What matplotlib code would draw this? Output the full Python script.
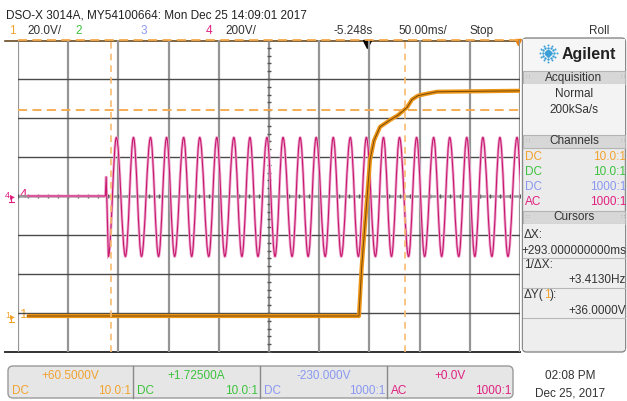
import numpy as np
import matplotlib
matplotlib.use("Agg")
import matplotlib.pyplot as plt
from matplotlib.patches import FancyBboxPatch, Rectangle, PathPatch
from matplotlib.path import Path

# channel 1 (20 V/div) - step (ms, V)
ch1_t = [-241, 89.6, 92.3, 100.6, 104.6, 110.6, 120.5, 128.5, 137.5, 142.4, 148.4, 157.4, 167.3, 250]
ch1_v = [0, 0, 25, 80, 90, 97, 100.5, 103, 107, 111, 113, 114, 115, 115.5]

# channel 4 (200 V/div) - mains, flat then switched on
ch4_pre_t = [-241, -163, -162.2, -161.4]
ch4_pre_v = [0, 0, 100, -40]
ch4_trough_t = [-160, -143, -127, -110, -94, -77, -60, -44, -27, -11, 6, 23, 39,
                56, 72, 89, 106, 122, 139, 155, 172, 189, 205, 222, 238, 255]
ch4_peak_t = [-152, -135, -118, -102, -85, -69, -52, -35, -19, -2, 14, 31, 47,
              64, 81, 97, 114, 130, 147, 164, 180, 197, 213, 230, 247]
ch4_trough_v = -310
ch4_peak_v = 300

cursor_x = [-157.5, 135.5]      # ms
cursor_y = [105.5, 141.5]       # V on channel 1

ORANGE = "#f2a22e"
GREEN = "#3cc23c"
BLUE = "#8a98f2"
MAGENTA = "#e0207f"
TXT = "#333333"

plt.rcParams["font.family"] = ["Liberation Sans", "DejaVu Sans"]
fs = 8.5

fig = plt.figure(figsize=(6.27, 4.01), dpi=100)

# overlay in pixel coordinates for the screen furniture
ov = fig.add_axes([0, 0, 1, 1], zorder=0)
ov.set_xlim(0, 627)
ov.set_ylim(401, 0)
ov.axis("off")

# scope graticule axes: 10 x 50 ms, 8 x 200 V
ax = fig.add_axes([18 / 627, 49 / 401, 502 / 627, 312 / 401], zorder=1)
ax.set_facecolor("none")
ax.set_xlim(-250, 250)
ax.set_ylim(-800, 800)
ax.axis("off")

for t in range(-250, 251, 50):
    ax.axvline(t, color="#959595", lw=1.6, zorder=1)
for v in range(-600, 601, 200):
    if v == 0:
        ax.axhline(v, color="#9a9a9a", lw=1.8, zorder=1)
    else:
        ax.axhline(v, color="#4a4a4a", lw=1.0, zorder=1)
ax.plot(np.arange(-250, 251, 10), np.zeros(51), ls="none", marker="|",
        ms=3, color="#555555", mew=1, zorder=1)
ax.plot(np.zeros(41), np.arange(-800, 801, 40), ls="none", marker="_",
        ms=3, color="#555555", mew=1, zorder=1)

# frame top/bottom (extend left of the graticule)
ov.plot([5, 520], [352, 352], color="#333333", lw=1.4)
ov.plot([5, 520], [40.5, 40.5], color="#6a4a20", lw=1.2)

# channel 4 trace: straight through the switch-on, smooth between extremes
ext = sorted(list(zip(ch4_trough_t, [ch4_trough_v] * len(ch4_trough_t))) +
             list(zip(ch4_peak_t, [ch4_peak_v] * len(ch4_peak_t))))
verts = list(zip(ch4_pre_t, ch4_pre_v)) + [ext[0]]
codes = [Path.MOVETO] + [Path.LINETO] * len(ch4_pre_t)
k = 0.3642
for (t0, v0), (t1, v1) in zip(ext[:-1], ext[1:]):
    dt = t1 - t0
    verts += [(t0 + k * dt, v0), (t1 - k * dt, v1), (t1, v1)]
    codes += [Path.CURVE4] * 3
path4 = Path(verts, codes)
ax.add_patch(PathPatch(path4, fill=False, ec="#eeaad0", lw=2.0, zorder=3))
ax.add_patch(PathPatch(path4, fill=False, ec="#c8186e", lw=0.8, zorder=4))

# channel 1 trace (own scale)
ax1 = ax.twinx()
ax1.set_ylim(-18.46, 141.54)
ax1.axis("off")
ax1.set_zorder(2)
ax1.plot(ch1_t, ch1_v, color="#ec9416", lw=3.0, zorder=3, solid_capstyle="butt")
ax1.plot(ch1_t, ch1_v, color="#7a4a08", lw=0.7, zorder=4)

# cursors
for cx in cursor_x:
    ax1.axvline(cx, color="#f9bb70", lw=1.2, ls=(0, (4, 3)), zorder=5)
for cy in cursor_y:
    ax1.axhline(cy, color="#f5a848", lw=1.3, ls=(0, (5, 3)), zorder=5, clip_on=False)

# markers on the top edge
ov.plot([367], [44], marker="v", color="black", ms=6)
ov.plot([518], [42], marker="v", color="#e8800c", ms=4)

# ground markers
for y, lab, col in [(196, "4", MAGENTA), (316, "1", ORANGE)]:
    ov.text(5, y, lab, color=col, fontsize=6.5, va="center", ha="left")
    ov.text(9.5, y, "\u25B8", color=col, fontsize=7, va="center", ha="left")
    ov.plot([11, 11], [y + 1, y + 6], color=col, lw=0.8)
    ov.plot([8.5, 13.5], [y + 6, y + 6], color=col, lw=0.8)
    ov.text(20, y - 1, lab, color=col, fontsize=9.5, va="center", ha="left")

# header lines
ov.text(6, 15, "DSO-X 3014A, MY54100664: Mon Dec 25 14:09:01 2017",
        fontsize=fs, color="#222222", va="center")
for x, s, c in [(9, "1", ORANGE), (27, "20.0V/", TXT), (75, "2", GREEN),
                (141, "3", BLUE), (206, "4", MAGENTA), (225, "200V/", TXT),
                (334, "-5.248s", TXT), (398, "50.00ms/", TXT), (470, "Stop", TXT),
                (589, "Roll", TXT)]:
    ov.text(x, 31, s, fontsize=fs, color=c, va="center")

# right panel
ov.add_patch(FancyBboxPatch((522.5, 38), 103, 314, boxstyle="round,pad=0,rounding_size=4",
                            fc="#ebebeb", ec="#8a8a8a", lw=1))
ov.add_patch(Rectangle((523, 38.5), 102, 32, fc="#f6f6f6", ec="none"))
ov.text(562, 54, "Agilent", fontsize=11.5, fontweight="bold", color="#222222",
        va="center")
ang = np.radians(np.arange(0, 360, 30))
for r, s in [(2.5, 4), (5.5, 3), (8.5, 2)]:
    ov.scatter(548 + r * np.cos(ang), 53 + r * np.sin(ang), s=s, color="#3a9fd6",
               lw=0)
ov.scatter([548], [53], s=6, color="#3a9fd6", lw=0)


def bar(y0, label):
    ov.add_patch(Rectangle((523, y0), 102, 13, fc="#d7d7d7", ec="#b4b4b4", lw=0.8))
    ov.text(574, y0 + 6.5, label, fontsize=fs, color=TXT, ha="center", va="center")
    ov.text(526, y0 + 6.5, "\u2237", fontsize=5, color="#aaaaaa", va="center")
    ov.text(621, y0 + 6.5, "\u2237", fontsize=5, color="#aaaaaa", va="center")


bar(71, "Acquisition")
ov.add_patch(Rectangle((523, 84), 102, 51, fc="#f3f3f3", ec="none"))
ov.text(574, 94, "Normal", fontsize=fs, color=TXT, ha="center", va="center")
ov.text(574, 110, "200kSa/s", fontsize=fs, color=TXT, ha="center", va="center")

bar(135, "Channels")
for y, a, b, c in [(157, "DC", "10.0:1", ORANGE), (172, "DC", "10.0:1", GREEN),
                   (187, "DC", "1000:1", BLUE), (202, "AC", "1000:1", MAGENTA)]:
    ov.text(525, y, a, fontsize=fs, color=c, va="center")
    ov.text(626, y, b, fontsize=fs, color=c, va="center", ha="right")

bar(211, "Cursors")
ov.add_patch(Rectangle((523, 224), 102, 126, fc="#eeeeee", ec="none"))
for y in [258, 288, 318]:
    ov.plot([523, 625], [y, y], color="#b8b8b8", lw=0.8)
ov.text(524, 235, "\u0394X:", fontsize=fs, color=TXT, va="center")
ov.text(626, 251, "+293.000000000ms", fontsize=fs, color=TXT, va="center", ha="right")
ov.text(524, 265, "1/\u0394X:", fontsize=fs, color=TXT, va="center")
ov.text(626, 280, "+3.4130Hz", fontsize=fs, color=TXT, va="center", ha="right")
dy = ov.text(524, 295, "\u0394Y(", fontsize=fs, color=TXT, va="center")
one = ov.annotate("1", xy=(1, 0.5), xycoords=dy, fontsize=fs, color=ORANGE,
                  va="center", ha="left")
ov.annotate("):", xy=(1, 0.5), xycoords=one, fontsize=fs, color=TXT,
            va="center", ha="left")
ov.text(626, 311, "+36.0000V", fontsize=fs, color=TXT, va="center", ha="right")

# bottom channel boxes
ov.add_patch(FancyBboxPatch((8, 366), 505, 32, boxstyle="round,pad=0,rounding_size=5",
                            fc="#e6e6e6", ec="#9a9a9a", lw=1))
for x in [133, 260, 387]:
    ov.plot([x, x], [366, 398], color="#8a8a8a", lw=1)
for x0, x1, val, cpl, ratio, col in [(8, 133, "+60.5000V", "DC", "10.0:1", ORANGE),
                                     (133, 260, "+1.72500A", "DC", "10.0:1", GREEN),
                                     (260, 387, "-230.000V", "DC", "1000:1", BLUE),
                                     (387, 513, "+0.0V", "AC", "1000:1", MAGENTA)]:
    ov.text((x0 + x1) / 2, 376, val, fontsize=fs, color=col, ha="center", va="center")
    ov.text(x0 + 4, 391, cpl, fontsize=fs, color=col, va="center")
    ov.text(x1 - 2, 391, ratio, fontsize=fs, color=col, va="center", ha="right")

ov.text(570, 376, "02:08 PM", fontsize=fs, color=TXT, ha="center", va="center")
ov.text(570, 393, "Dec 25, 2017", fontsize=fs, color=TXT, ha="center", va="center")

fig.savefig("out.png", dpi=100, facecolor="white")
